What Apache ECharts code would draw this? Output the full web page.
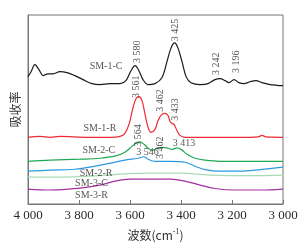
<!DOCTYPE html>
<html><head><meta charset="utf-8">
<script src="https://cdn.jsdelivr.net/npm/echarts@6/dist/echarts.min.js"></script>
<style>html,body{margin:0;padding:0;background:#fff}#c{width:303px;height:246px}</style>
</head><body><div id="c"></div>
<script>
// wavenumber (cm-1), absorbance (arbitrary, offset) pairs
var sm1c = [[4000,67.4],[3988,70.0],[3973,73.7],[3957,71.1],[3941,67.9],[3922,68.9],[3902,68.9],[3875,70.0],[3847,69.5],[3816,67.9],[3784,65.8],[3749,63.7],[3718,63.2],[3678,63.7],[3639,63.7],[3616,65.3],[3596,70.5],[3580,73.2],[3565,70.5],[3549,65.8],[3529,63.2],[3502,63.7],[3475,66.8],[3455,75.3],[3439,82.6],[3425,85.3],[3412,82.6],[3396,75.3],[3380,67.4],[3361,64.2],[3325,63.2],[3294,63.7],[3267,65.8],[3247,66.3],[3227,65.3],[3212,64.2],[3192,65.8],[3173,64.2],[3153,63.7],[3129,64.7],[3106,65.3],[3082,64.2],[3051,63.2],[3000,62.6]];
var sm1r = [[4000,35.3],[3953,35.8],[3914,35.3],[3875,35.8],[3816,35.5],[3757,35.3],[3678,35.3],[3639,35.8],[3620,37.4],[3604,42.1],[3588,51.1],[3576,55.8],[3565,56.8],[3553,54.7],[3541,47.4],[3529,40.5],[3518,37.9],[3502,39.5],[3490,44.2],[3475,47.4],[3463,47.9],[3451,46.8],[3443,43.7],[3435,42.6],[3427,42.1],[3416,38.9],[3404,36.3],[3384,35.3],[3325,35.3],[3247,35.3],[3129,35.3],[3098,35.5],[3082,36.3],[3067,35.5],[3000,35.3]];
var sm2c = [[4000,22.6],[3914,23.2],[3796,23.7],[3718,24.2],[3659,25.3],[3620,27.4],[3592,30.5],[3573,32.6],[3561,32.9],[3545,31.6],[3529,29.5],[3514,28.4],[3490,29.5],[3471,30.0],[3451,29.5],[3435,28.9],[3416,29.7],[3400,28.9],[3376,26.3],[3345,24.2],[3306,23.2],[3247,22.6],[3129,22.6],[3000,22.6]];
var sm2r = [[4000,17.4],[3914,17.9],[3816,18.4],[3737,20.0],[3678,21.6],[3620,23.2],[3569,24.2],[3545,25.0],[3529,23.7],[3502,22.6],[3443,22.6],[3384,22.1],[3345,20.0],[3306,18.2],[3247,17.4],[3169,17.4],[3090,18.2],[3000,19.5]];
var sm3c = [[4000,14.2],[3875,14.2],[3757,14.7],[3639,15.8],[3522,16.3],[3404,16.3],[3286,15.3],[3129,15.0],[3000,15.3]];
var sm3r = [[4000,7.9],[3914,7.4],[3796,8.4],[3718,10.0],[3659,12.1],[3600,13.2],[3522,13.2],[3443,13.2],[3384,12.1],[3325,10.0],[3267,8.2],[3188,7.4],[3090,7.4],[3000,7.9]];
var seriesNames = ['SM-1-C','SM-1-R','SM-2-C','SM-2-R','SM-3-C','SM-3-R'];
var seriesColors = ['#1a1a1a','#ee2a32','#1fa854','#2a9ae2','#a6dcb3','#a4309e'];
// peak annotations: [wavenumber, y, text, rotate]
var peakLabels = [[3573,80.5,'3 580',90],[3424,92.1,'3 425',90],[3263,74.2,'3 242',90],[3184,75.3,'3 196',90],
  [3576,62.1,'3 561',90],[3482,54.7,'3 462',90],[3424,50.0,'3 433',90],
  [3567,36.3,'3 564',90],[3480,29.7,'3 462',90],[3388,32.1,'3 413',0],[3531,27.4,'3 546',0]];
// series name labels: [wavenumber, y, text]
var nameLabels = [[3694,72.6,'SM-1-C'],[3718,40.0,'SM-1-R'],[3722,28.4,'SM-2-C'],[3733,16.3,'SM-2-R'],[3751,11.1,'SM-3-C'],[3751,4.7,'SM-3-R']];
var xTicks = ['4 000','3 800','3 600','3 400','3 200','3 000'];

var serif = 'Liberation Serif';
var dataSets = [sm1c,sm1r,sm2c,sm2r,sm3c,sm3r];
var series = dataSets.map(function(d,i){
  return {type:'line',name:seriesNames[i],data:d,smooth:0.35,symbol:'none',
    lineStyle:{color:seriesColors[i],width:1.2},silent:true,z:2};
});
function textSeries(arr, fs){
  return {type:'scatter',symbolSize:0,silent:true,z:5,
    data:arr.map(function(a){return {value:[a[0],a[1]],label:{show:true,formatter:a[2],rotate:a[3]||0}};}),
    label:{show:true,position:'inside',color:'#2a2a2a',fontFamily:serif,fontSize:fs,align:'center',verticalAlign:'middle'}};
}
series.push(textSeries(peakLabels,10));
series.push(textSeries(nameLabels,10));

var chart = echarts.init(document.getElementById('c'),null,{renderer:'canvas'});
chart.setOption({
  animation:false,
  grid:{left:28,right:20,top:15,bottom:41,show:true,borderColor:'#777',borderWidth:1},
  xAxis:{type:'value',min:3000,max:4000,interval:200,inverse:true,
    axisLine:{show:true,lineStyle:{color:'#777',width:1}},
    axisTick:{show:true,inside:true,length:4,lineStyle:{color:'#777'}},
    splitLine:{show:false},
    axisLabel:{color:'#2a2a2a',fontFamily:serif,fontSize:13,margin:5,
      formatter:function(v){return xTicks[Math.round((4000-v)/200)];}},
    name:'波数(cm{sup|-1})',nameLocation:'middle',nameGap:24,
    nameTextStyle:{color:'#333',fontFamily:'Noto Sans CJK SC',fontSize:12,
      rich:{sup:{fontSize:8,verticalAlign:'top',padding:[0,0,6,0],fontFamily:serif}}}},
  yAxis:{type:'value',min:0,max:100,
    axisLine:{show:true,lineStyle:{color:'#777'}},axisTick:{show:false},axisLabel:{show:false},splitLine:{show:false},
    name:'吸收率',nameLocation:'middle',nameGap:7,nameRotate:90,
    nameTextStyle:{color:'#333',fontFamily:'Noto Sans CJK SC',fontSize:12}},
  series:series
});
</script></body></html>
